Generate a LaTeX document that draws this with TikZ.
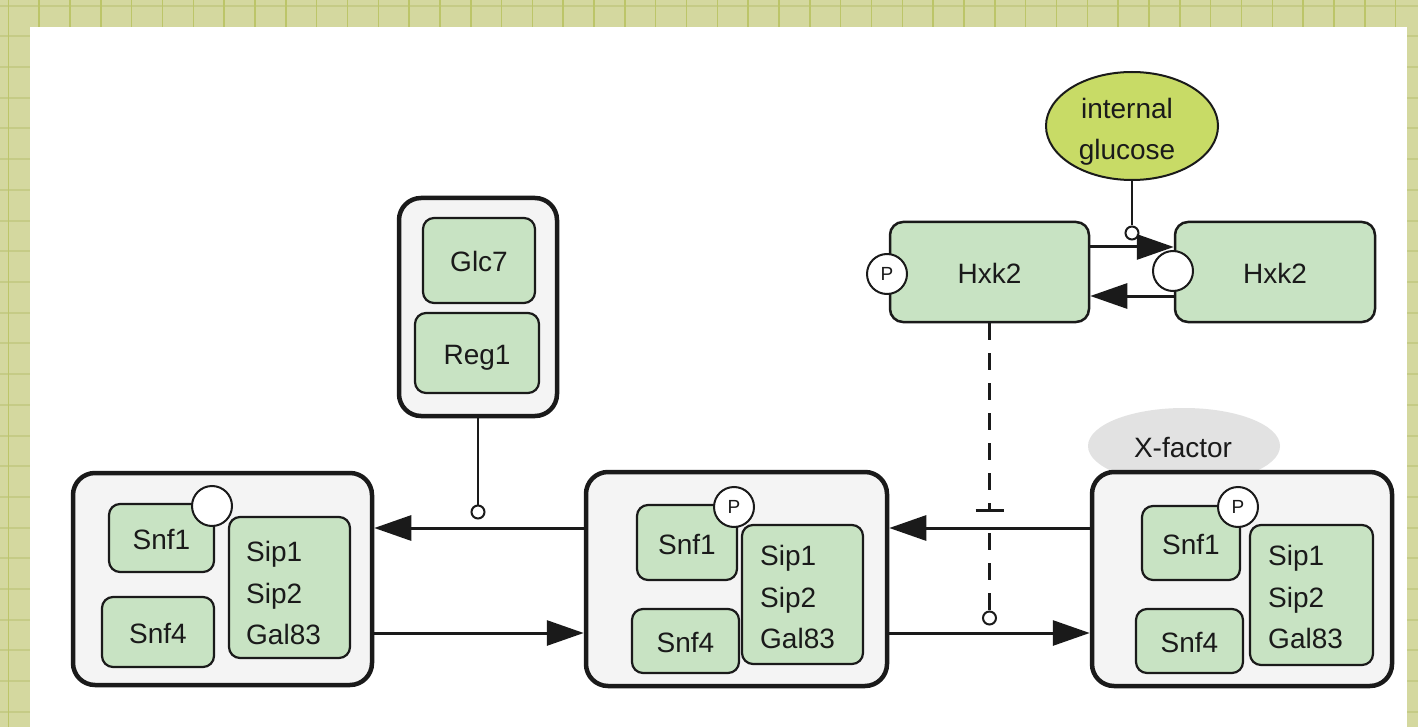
\documentclass[tikz,border=0pt]{standalone}
\usepackage{fontspec}
\setmainfont{Liberation Sans}
\usetikzlibrary{arrows.meta,shapes.geometric}

\definecolor{gridbg}{HTML}{D4D89F}
\definecolor{gridv}{HTML}{BCC569}
\definecolor{gridh}{HTML}{C5CB86}
\definecolor{inkc}{HTML}{1A1A1A}
\definecolor{protfill}{HTML}{C8E3C3}
\definecolor{cplxfill}{HTML}{F4F4F4}
\definecolor{glufill}{HTML}{C8DB66}
\definecolor{xfill}{HTML}{E2E2E2}

\newcommand\figfont{\fontsize{28}{41.5}\selectfont}
\newcommand\pfont{\fontsize{19}{22}\selectfont}

\begin{document}
\begin{tikzpicture}[x=1pt,y=-1pt,
  cplx/.style={draw=inkc, line width=4.5pt, fill=cplxfill, rounded corners=22pt, inner sep=0pt},
  prot/.style={draw=inkc, line width=2.2pt, fill=protfill, rounded corners=11pt, inner sep=0pt,
               font=\figfont, text=inkc, text height=23pt, text depth=0pt},
  hxk/.style={prot, line width=2.5pt, rounded corners=13pt, minimum width=199pt, minimum height=100pt},
  lbl/.style={font=\figfont, text=inkc, inner sep=0pt, align=left},
  st/.style={circle, draw=inkc, line width=2pt, fill=white, minimum size=40pt, inner sep=0pt,
             font=\pfont, text=inkc},
  modc/.style={circle, draw=inkc, line width=2pt, fill=white, minimum size=13pt, inner sep=0pt},
  flow/.style={draw=inkc, line width=3pt, -{Triangle[length=37pt,width=25pt]}},
  link/.style={draw=inkc, line width=2.2pt},
  dashlink/.style={draw=inkc, line width=3pt, dash pattern=on 17pt off 13pt},
]
\useasboundingbox (0,0) rectangle (1418,727);

% grid paper background and white sheet
\fill[gridbg] (0,0) rectangle (1418,727);
\foreach \j in {0,...,23} \draw[gridh, line width=2pt] (0,5.7+30.7*\j) -- (1418,5.7+30.7*\j);
\foreach \i in {0,...,46} \draw[gridv, line width=1.5pt] (8.3+30.83*\i,0) -- (8.3+30.83*\i,727);
\fill[white] (30,27) rectangle (1407,727);

% X-factor halo
\node[ellipse, fill=xfill, minimum width=192pt, minimum height=76pt, inner sep=0pt] (xf) at (1184,446) {};
\node[lbl] (xft) at (1183,448) {X-factor};

% Snf1 complexes
\node[cplx, minimum width=299pt, minimum height=212pt] (c1) at (222.5,579) {};
\node[cplx, minimum width=301pt, minimum height=214pt] (c2) at (736.5,579) {};
\node[cplx, minimum width=300pt, minimum height=214pt] (c3) at (1242,579) {};

% complex 1 (unphosphorylated)
\node[prot, minimum width=105pt, minimum height=68pt] (s1a) at (161.5,538) {Snf1};
\node[prot, minimum width=112pt, minimum height=70pt] (s4a) at (158,632) {Snf4};
\node[prot, minimum width=121pt, minimum height=141pt] (sipa) at (289.5,587.5) {};
\node[lbl, anchor=west] (sipat) at (246,593) {Sip1\\Sip2\\Gal83};
\node[st] (ua) at (212,506) {};

% complex 2 (phosphorylated)
\node[prot, minimum width=100pt, minimum height=75pt] (s1b) at (687,542.5) {Snf1};
\node[prot, minimum width=107pt, minimum height=64pt] (s4b) at (685.5,641) {Snf4};
\node[prot, minimum width=121pt, minimum height=139pt] (sipb) at (802.5,594.5) {};
\node[lbl, anchor=west] (sipbt) at (760,597) {Sip1\\Sip2\\Gal83};
\node[st] (pb) at (734,507) {P};

% complex 3 (phosphorylated, with X-factor)
\node[prot, minimum width=98pt, minimum height=74pt] (s1c) at (1191,543) {Snf1};
\node[prot, minimum width=107pt, minimum height=64pt] (s4c) at (1189.5,641) {Snf4};
\node[prot, minimum width=123pt, minimum height=140pt] (sipc) at (1311.5,595) {};
\node[lbl, anchor=west] (sipct) at (1268,597) {Sip1\\Sip2\\Gal83};
\node[st] (pc) at (1238,507) {P};

% Glc7-Reg1 phosphatase
\node[cplx, minimum width=158pt, minimum height=218pt] (rc) at (478,307) {};
\node[prot, minimum width=112pt, minimum height=85pt] (glc) at (479,260.5) {Glc7};
\node[prot, minimum width=124pt, minimum height=80pt] (reg) at (477,353) {Reg1};

% Hxk2 states and internal glucose
\node[hxk] (hl) at (989.5,272) {Hxk2};
\node[hxk, minimum width=200pt] (hr) at (1275,272) {Hxk2};
\node[st] (ph) at (887,274) {P};
\node[st] (uh) at (1173,271) {};
\node[ellipse, draw=inkc, line width=2pt, fill=glufill, minimum width=172pt, minimum height=108pt, inner sep=0pt] (glu) at (1132,126) {};
\node[lbl, align=center] (glut) at (1127,132) {internal\\glucose};

% modulator end points
\node[modc] (m1) at (478,512) {};
\node[modc] (m2) at (1132,233) {};
\node[modc] (m3) at (989.5,618) {};
\coordinate (bar) at (989.5,510);
\coordinate (resume) at (989.5,533);

% state transitions of the Snf1 complex
\draw[flow] ([yshift=51pt]c2.west) -- ([yshift=51pt]c1.east);
\draw[flow] ([yshift=-54pt]c1.east) -- ([yshift=-54pt]c2.west);
\draw[flow] ([yshift=51pt]c3.west) -- ([yshift=51pt]c2.east);
\draw[flow] ([yshift=-54pt]c2.east) -- ([yshift=-54pt]c3.west);

% Hxk2 transitions
\draw[flow] ([yshift=25pt]hl.east) -- ([yshift=25pt]hr.west);
\draw[flow] ([yshift=-24pt]hr.west) -- ([yshift=-24pt]hl.east);

% modulations
\draw[link] (rc.south) -- (m1.north);
\draw[link] (glu.south) -- (m2.north);
\draw[dashlink] (hl.south) -- (bar);
\draw[draw=inkc, line width=3pt] ([xshift=-14pt]bar) -- ([xshift=14pt]bar);
\draw[dashlink] (resume) -- (m3.north);
\end{tikzpicture}
\end{document}
